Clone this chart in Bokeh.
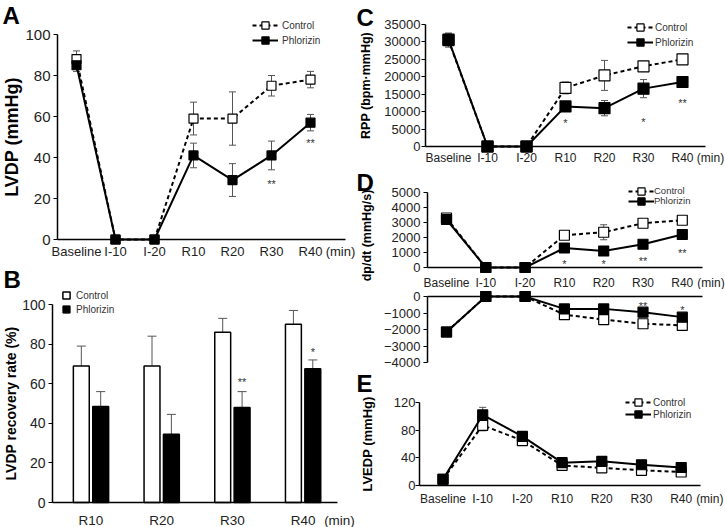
from bokeh.plotting import figure
from bokeh.models import (ColumnDataSource, Whisker, TeeHead, FixedTicker, Legend,
                          LegendItem, Label, Range1d)
from bokeh.layouts import row, column
from bokeh.embed import file_html
from bokeh.resources import INLINE
from bokeh.core.properties import value

FONT = "Liberation Sans"

# ---------------- data ----------------
cats = ["Baseline", "I-10", "I-20", "R10", "R20", "R30", "R40"]

# A: LVDP (mmHg)
a_ctrl = [88, 0, 0, 59, 59, 75, 78]
a_ctrl_err = [4, 0, 0, 8, 13, 5, 4]
a_phl = [85, 0, 0, 41, 29, 41, 57]
a_phl_err = [3, 0, 0, 6, 8, 7, 4]
a_star_idx = [5, 6]
a_star_txt = ["**", "**"]
a_star_y = [29, 49]

# B: LVDP recovery rate (%)
b_cats = ["R10", "R20", "R30", "R40"]
b_ctrl = [69, 69, 86, 90]
b_ctrl_err = [10, 15, 7, 7]
b_phl = [48.5, 34.5, 48, 67.5]
b_phl_err = [7.5, 10, 8, 4.5]
b_star_idx = [2, 3]
b_star_txt = ["**", "*"]
b_star_y = [63, 78]

# C: RPP (bpm·mmHg)
c_ctrl = [30500, 0, 0, 16800, 20400, 23000, 25000]
c_ctrl_err = [2000, 0, 0, 1700, 4300, 600, 600]
c_phl = [30700, 0, 0, 11500, 11000, 16600, 18500]
c_phl_err = [1800, 0, 0, 1000, 2200, 2600, 1000]
c_star_idx = [3, 5, 6]
c_star_txt = ["*", "*", "**"]
c_star_y = [8000, 8300, 13500]

# D: dp/dt (mmHg/s), upper (+) and lower (-)
d_ctrl_up = [3300, 0, 0, 2150, 2350, 2950, 3150]
d_ctrl_up_err = [200, 0, 0, 150, 500, 150, 150]
d_phl_up = [3200, 0, 0, 1300, 1100, 1550, 2200]
d_phl_up_err = [200, 0, 0, 150, 150, 150, 150]
d_up_star_idx = [3, 4, 5, 6]
d_up_star_txt = ["*", "*", "**", "**"]
d_up_star_y = [470, 470, 690, 1260]

d_ctrl_lo = [-2150, 0, 0, -1100, -1400, -1650, -1750]
d_ctrl_lo_err = [100, 0, 0, 100, 100, 100, 100]
d_phl_lo = [-2150, 0, 0, -750, -750, -950, -1250]
d_phl_lo_err = [150, 0, 0, 100, 100, 100, 100]
d_lo_star_idx = [5, 6]
d_lo_star_txt = ["**", "*"]
d_lo_star_y = [-350, -600]

# E: LVEDP (mmHg)
e_ctrl = [9, 87, 65, 29, 25.5, 22, 19.5]
e_ctrl_err = [2, 8, 3, 3, 3, 3, 3]
e_phl = [9, 102, 71, 33, 35, 30, 26]
e_phl_err = [2, 11, 4, 3, 4, 3, 3]

TICK_COLOR = "#222222"
ERR_COLOR = "#555555"
TXT_COLOR = "#333333"

PX = {}


def make_fig(W, H, x_px0, x_scale, y_px0, y_scale):
    """Frame covers the whole canvas; data x=0 sits at canvas px x_px0 and
    data y=0 at canvas px y_px0 (from the top). Axes are pinned inside."""
    xr = (-x_px0 / x_scale, (W - x_px0) / x_scale)
    yr = (-(H - y_px0) / y_scale, y_px0 / y_scale)
    p = figure(width=W, height=H, x_range=Range1d(*xr), y_range=Range1d(*yr),
               output_backend="svg", toolbar_location=None,
               min_border_left=0, min_border_right=0,
               min_border_top=0, min_border_bottom=0)
    p.grid.visible = False
    p.outline_line_color = None
    p.background_fill_color = "white"
    p.border_fill_color = "white"
    PX[p.id] = (x_px0, x_scale, y_px0, y_scale)
    return p


def px_to_x(p, px):
    x_px0, xs, _, _ = PX[p.id]
    return (px - x_px0) / xs


def style_yaxis(p, axis_px, ticks, bounds, font_size, label=None, label_size="14px",
                standoff=3, label_standoff=0):
    ax = p.yaxis[0]
    ax.fixed_location = px_to_x(p, axis_px)
    ax.ticker = FixedTicker(ticks=ticks)
    ax.bounds = bounds
    ax.axis_line_color = "black"
    ax.axis_line_width = 1.5
    ax.major_tick_out = 4
    ax.major_tick_in = 0
    ax.major_tick_line_color = "black"
    ax.minor_tick_line_color = None
    ax.major_label_text_font = FONT
    ax.major_label_text_font_size = font_size
    ax.major_label_text_color = TICK_COLOR
    ax.major_label_standoff = standoff
    if label:
        ax.axis_label = label
        ax.axis_label_text_font = FONT
        ax.axis_label_text_font_style = "bold"
        ax.axis_label_text_font_size = label_size
        ax.axis_label_text_color = "black"
        ax.axis_label_standoff = label_standoff


def style_xaxis(p, labels, start_px, end_px, min_px, font_size, standoff=0):
    ax = p.xaxis[0]
    ax.fixed_location = 0
    ax.bounds = (px_to_x(p, start_px), px_to_x(p, end_px))
    ax.axis_line_color = "black"
    ax.axis_line_width = 1.5
    ax.major_tick_line_color = None
    ax.minor_tick_line_color = None
    ax.major_tick_out = 0
    ax.major_tick_in = 0
    if labels is None:
        ax.ticker = FixedTicker(ticks=[])
        ax.major_label_text_alpha = 0
        return
    min_pos = px_to_x(p, min_px)
    ticks = list(range(len(labels))) + [min_pos]
    ax.ticker = FixedTicker(ticks=ticks)
    ov = {i: lab for i, lab in enumerate(labels)}
    ov[min_pos] = "(min)"
    ax.major_label_overrides = ov
    ax.major_label_text_font = FONT
    ax.major_label_text_font_size = font_size
    ax.major_label_text_color = TICK_COLOR
    ax.major_label_standoff = standoff


def add_err(p, xs, vals, errs, head=7, both=True):
    src = ColumnDataSource(dict(
        x=xs,
        lower=[v - e for v, e in zip(vals, errs)] if both else list(vals),
        upper=[v + e for v, e in zip(vals, errs)]))
    w = Whisker(base="x", lower="lower", upper="upper", source=src,
                line_color=ERR_COLOR, line_width=1,
                upper_head=TeeHead(size=head, line_color=ERR_COLOR, line_width=1),
                lower_head=TeeHead(size=head, line_color=ERR_COLOR, line_width=1) if both else None)
    p.add_layout(w)


def add_stars(p, xs, ys, txt, size="11px"):
    src = ColumnDataSource(dict(x=xs, y=ys, t=txt))
    p.text(x="x", y="y", text="t", source=src, text_font=value(FONT),
           text_font_size=size, text_align="center", text_baseline="middle",
           text_color=TXT_COLOR, y_offset=4)


def line_series(p, ctrl, ctrl_err, phl, phl_err, msize, head=7):
    xs = list(range(len(cats)))
    add_err(p, xs, ctrl, ctrl_err, head)
    add_err(p, xs, phl, phl_err, head)
    lc = p.line(xs, ctrl, line_color="black", line_width=2, line_dash="4 3")
    sc = p.scatter(xs, ctrl, marker="square", size=msize, fill_color="white",
                   line_color="black", line_width=1.2)
    lp = p.line(xs, phl, line_color="black", line_width=2)
    sp = p.scatter(xs, phl, marker="square", size=msize, fill_color="black",
                   line_color="black", line_width=1.2)
    return (lc, sc), (lp, sp)


def add_legend(p, ctrl_r, phl_r, x_glyph, rows_y, gw=26, gh=18, standoff=2,
               font_size="10px"):
    H = p.height
    for lab, rs, ry in (("Control", ctrl_r, rows_y[0]), ("Phlorizin", phl_r, rows_y[1])):
        leg = Legend(items=[LegendItem(label=lab, renderers=list(rs))],
                     location=(x_glyph, H - ry - gh / 2),
                     orientation="vertical", glyph_width=gw, glyph_height=gh,
                     spacing=0, padding=0, margin=0, label_standoff=standoff,
                     label_text_font=FONT, label_text_font_size=font_size,
                     label_text_color=TXT_COLOR, label_height=8,
                     background_fill_alpha=0, border_line_alpha=0,
                     inactive_fill_alpha=0)
        p.add_layout(leg)


def add_letter(p, letter, x, y_base):
    p.add_layout(Label(x=x, y=p.height - y_base, x_units="screen", y_units="screen",
                       text=letter, text_font=FONT, text_font_style="bold",
                       text_font_size="24px", text_baseline="alphabetic",
                       text_align="left", text_color="black"))


# ---------------- Panel A ----------------
pa = make_fig(356, 260, 76, 39, 239, 2.05)
ca, pha = line_series(pa, a_ctrl, a_ctrl_err, a_phl, a_phl_err, 9)
add_stars(pa, a_star_idx, a_star_y, a_star_txt)
style_yaxis(pa, 57, [0, 20, 40, 60, 80, 100], (0, 100), "15px", "LVDP (mmHg)", "18px",
            standoff=3, label_standoff=0)
style_xaxis(pa, cats, 57, 345, 340, "13px", standoff=4)
add_legend(pa, ca, pha, 252, (25, 40), standoff=4)
add_letter(pa, "A", 2, 14.5)

# ---------------- Panel B ----------------
pb = make_fig(356, 267, 90.5, 70.7, 242, 1.98)
bx = list(range(len(b_cats)))
off = 0.137
bw = 0.225
bx_c = [x - off for x in bx]
bx_p = [x + off for x in bx]
add_err(pb, bx_c, b_ctrl, b_ctrl_err, head=9, both=False)
add_err(pb, bx_p, b_phl, b_phl_err, head=9, both=False)
pb.vbar(x=bx_c, width=bw, top=b_ctrl, bottom=0, fill_color="white",
        line_color="black", line_width=1.5)
pb.vbar(x=bx_p, width=bw, top=b_phl, bottom=0, fill_color="black",
        line_color="black", line_width=1.5)
add_stars(pb, [bx_p[i] for i in b_star_idx], b_star_y, b_star_txt)
style_yaxis(pb, 52, [0, 20, 40, 60, 80, 100], (0, 100), "14px", "LVDP recovery rate (%)",
            "14px", standoff=3, label_standoff=0)
style_xaxis(pb, b_cats, 52, 337, 339, "13.5px", standoff=10)
# legend swatches (hidden in the plot itself)
lgc = pb.scatter(bx_c, b_ctrl, marker="square", fill_color="white", line_color="black",
                 line_width=1.5, visible=False)
lgp = pb.scatter(bx_p, b_phl, marker="square", fill_color="black", line_color="black",
                 visible=False)
add_legend(pb, [lgc], [lgp], 57, (35, 49), gw=18, gh=18, standoff=1)
add_letter(pb, "B", 3, 19)

# ---------------- Panel C ----------------
pc = make_fig(369, 165, 92, 39, 146, 122 / 35000)
cc, phc = line_series(pc, c_ctrl, c_ctrl_err, c_phl, c_phl_err, 11)
add_stars(pc, c_star_idx, c_star_y, c_star_txt)
style_yaxis(pc, 69, list(range(0, 35001, 5000)), (0, 35000), "13px", "RPP (bpm\u00b7mmHg)",
            "12.5px", standoff=1, label_standoff=8)
style_xaxis(pc, cats, 69, 349, 354, "12px", standoff=4)
add_legend(pc, cc, phc, 271, (27, 42), standoff=2)
add_letter(pc, "C", 0, 16.5)

# ---------------- Panel D (upper) ----------------
pdu = make_fig(369, 124, 90, 39.3, 102, 0.015)
cdu, phdu = line_series(pdu, d_ctrl_up, d_ctrl_up_err, d_phl_up, d_phl_up_err, 10)
add_stars(pdu, d_up_star_idx, d_up_star_y, d_up_star_txt)
style_yaxis(pdu, 71, [0, 1000, 2000, 3000, 4000, 5000], (0, 5000), "13px", standoff=3)
style_xaxis(pdu, cats, 71, 346, 354.5, "12px", standoff=8)
add_legend(pdu, cdu, phdu, 272, (25.5, 35.5), standoff=0, font_size="9.5px")
add_letter(pdu, "D", 0, 16.5)
pdu.add_layout(Label(x=10, y=pdu.height - 70, x_units="screen", y_units="screen",
                     text="dp/dt (mmHg/s)", angle=90, angle_units="deg",
                     text_font=FONT, text_font_style="bold", text_font_size="12.5px",
                     text_align="center", text_baseline="middle", text_color="black"))

# ---------------- Panel D (lower) ----------------
pdl = make_fig(369, 81, 90, 39.3, 7, 0.0165)
cdl, phdl = line_series(pdl, d_ctrl_lo, d_ctrl_lo_err, d_phl_lo, d_phl_lo_err, 10)
add_stars(pdl, d_lo_star_idx, d_lo_star_y, d_lo_star_txt)
style_yaxis(pdl, 71, [0, -1000, -2000, -3000, -4000], (-4000, 0), "13px", standoff=3)
style_xaxis(pdl, None, 71, 346, 354.5, "12px")

# ---------------- Panel E ----------------
pe = make_fig(369, 157, 86.5, 39.7, 115, 0.6917)
ce, phe = line_series(pe, e_ctrl, e_ctrl_err, e_phl, e_phl_err, 10)
style_yaxis(pe, 63, [0, 40, 80, 120], (0, 120), "13px", "LVEDP (mmHg)", "13px",
            standoff=0, label_standoff=16)
style_xaxis(pe, cats, 63, 344, 353.3, "12px", standoff=6)
add_legend(pe, ce, phe, 269, (32, 44), standoff=2)
add_letter(pe, "E", 0, 13)

layout = row(column(pa, pb), column(pc, pdu, pdl, pe))

open("out.html", "w").write(file_html(layout, INLINE))
